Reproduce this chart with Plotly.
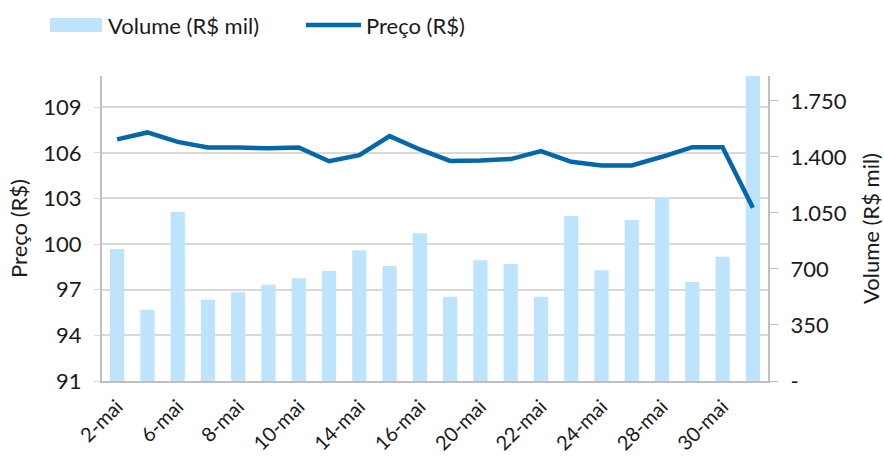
import plotly.graph_objects as go

categories = ["2-mai", "3-mai", "6-mai", "7-mai", "8-mai", "9-mai", "10-mai", "13-mai",
              "14-mai", "15-mai", "16-mai", "17-mai", "20-mai", "21-mai", "22-mai", "23-mai",
              "24-mai", "27-mai", "28-mai", "29-mai", "30-mai", "31-mai"]
volume = [825, 446, 1058, 508, 554, 602, 642, 688, 817, 719, 923, 527, 754, 731, 527, 1031,
          692, 1006, 1150, 619, 777, 2000]
price = [106.88, 107.34, 106.72, 106.35, 106.35, 106.30, 106.35, 105.45, 105.85, 107.10, 106.22,
         105.47, 105.50, 105.59, 106.11, 105.41, 105.17, 105.17, 105.74, 106.37, 106.37, 102.39]
x_tick_labels = categories[::2]
price_ticks = [91, 94, 97, 100, 103, 106, 109]
volume_ticks = [0, 350, 700, 1050, 1400, 1750]
volume_tick_labels = ["-", "350", "700", "1.050", "1.400", "1.750"]
series_names = ["Volume (R$ mil)", "Preço (R$)"]

FONT = "Lato"
FS = 22
TXT = "#1a1a1a"
BAR_COLOR = "#BDE4FC"
LINE_COLOR = "#0367A9"

W, H = 884, 457
ML, MR, MT, MB = 102, 116, 76, 76
PW, PH = W - ML - MR, H - MT - MB


def px(xp):
    return (xp - ML) / PW


def py(yp):
    return (H - MB - yp) / PH


fig = go.Figure()
fig.add_trace(go.Bar(x=categories, y=volume, name=series_names[0], yaxis="y",
                     marker=dict(color=BAR_COLOR, line=dict(width=0)), width=0.47))
fig.add_trace(go.Scatter(x=categories, y=price, name=series_names[1], yaxis="y2", mode="lines",
                         line=dict(color=LINE_COLOR, width=4.5)))

# legend drawn manually (swatches + text)
shapes = [
    dict(type="rect", xref="paper", yref="paper", x0=px(50), x1=px(102), y0=py(32), y1=py(18),
         fillcolor=BAR_COLOR, line=dict(width=0), layer="above"),
    dict(type="line", xref="paper", yref="paper", x0=px(306), x1=px(361), y0=py(25), y1=py(25),
         line=dict(color=LINE_COLOR, width=4.5), layer="above"),
]
annotations = [
    dict(text=series_names[0], xref="paper", yref="paper", x=px(106), y=py(25), xanchor="left",
         yanchor="middle", showarrow=False, font=dict(size=FS, family=FONT, color=TXT)),
    dict(text=series_names[1], xref="paper", yref="paper", x=px(364), y=py(25), xanchor="left",
         yanchor="middle", showarrow=False, font=dict(size=FS, family=FONT, color=TXT)),
]

fig.update_layout(
    width=W, height=H,
    margin=dict(l=ML, r=MR, t=MT, b=MB, autoexpand=False),
    paper_bgcolor="white", plot_bgcolor="white",
    font=dict(family=FONT, size=FS, color=TXT),
    showlegend=False,
    shapes=shapes,
    annotations=annotations,
    xaxis=dict(type="category", tickmode="array", tickvals=x_tick_labels, ticktext=x_tick_labels,
               tickangle=-45, showline=True, linecolor="#BFBFBF", linewidth=2, ticks="",
               showgrid=False, tickfont=dict(size=20, family=FONT, color=TXT), automargin=False,
               ticklabelstandoff=4),
    yaxis=dict(side="right", range=[0, 1906], tickmode="array", tickvals=volume_ticks,
               ticktext=volume_tick_labels, showgrid=False, showline=True, linecolor="#BFBFBF",
               linewidth=2, ticks="outside", ticklen=8, tickcolor="#BFBFBF",
               title=dict(text=series_names[0], font=dict(size=FS, family=FONT, color=TXT), standoff=19),
               zeroline=False, ticklabelstandoff=8, automargin=False),
    yaxis2=dict(side="left", overlaying="y", range=[91, 111.05], tickmode="array",
                tickvals=price_ticks, showgrid=True, gridcolor="#D9D9D9", gridwidth=1.5,
                showline=True, linecolor="#BFBFBF", linewidth=2, ticks="outside", ticklen=6,
                tickcolor="#D9D9D9",
                title=dict(text=series_names[1], font=dict(size=FS, family=FONT, color=TXT), standoff=10),
                zeroline=False, ticklabelstandoff=8, automargin=False),
)

fig.write_html("out.html", config={"displayModeBar": False},
               post_script="document.body.style.margin='0';document.body.style.overflow='hidden';")
